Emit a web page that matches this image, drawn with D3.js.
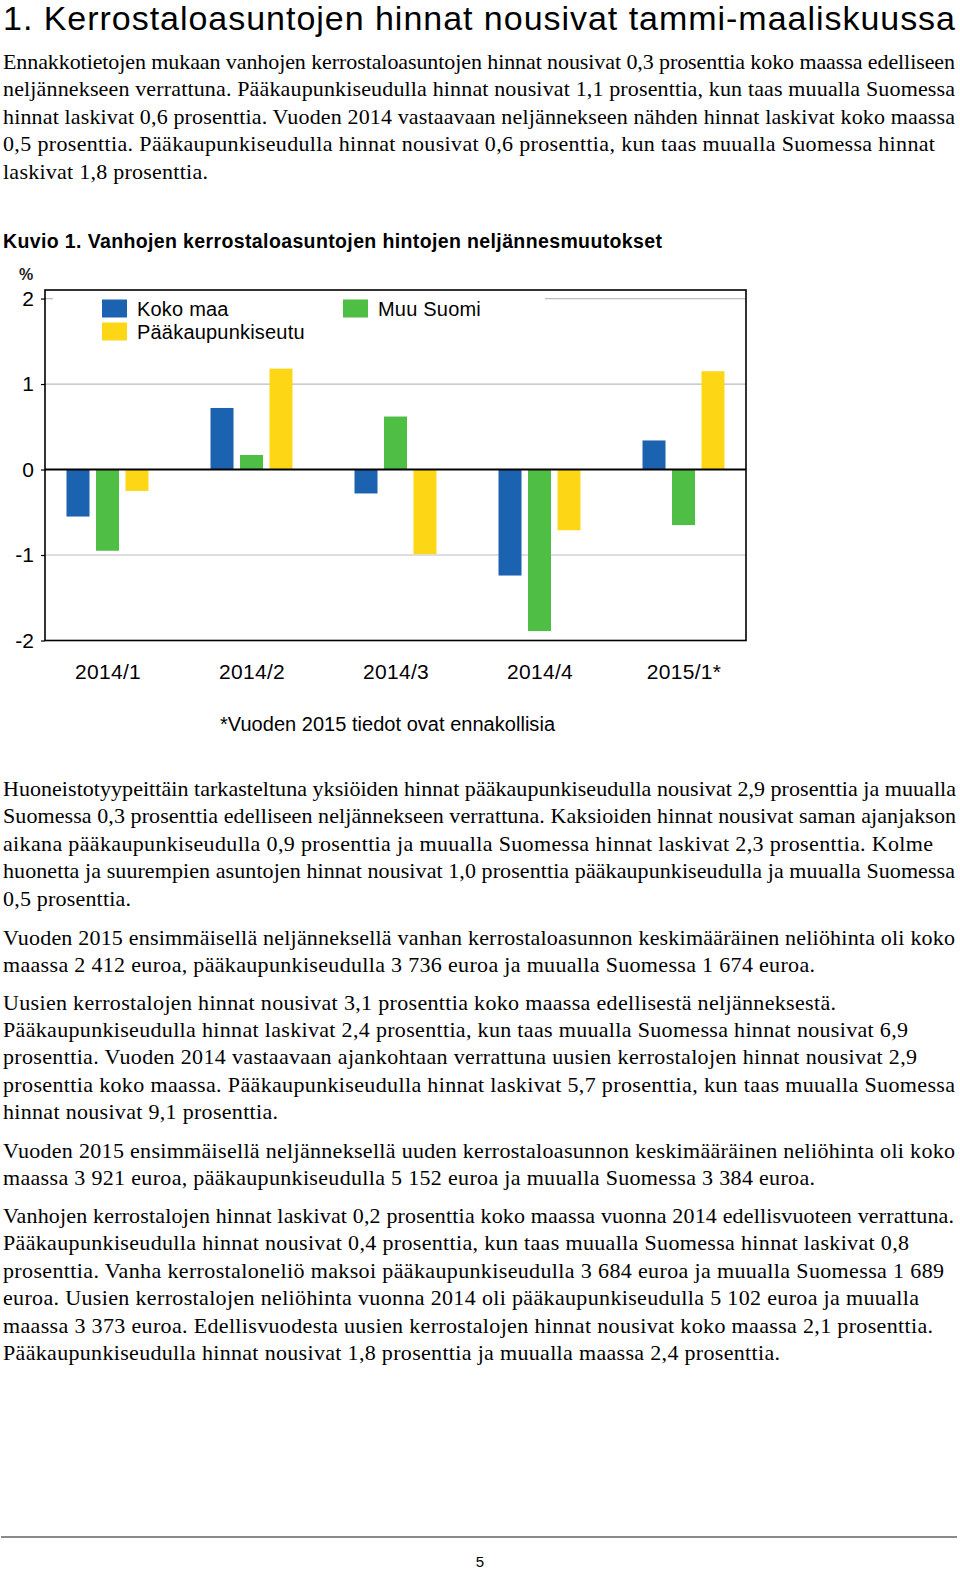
<!DOCTYPE html>
<html>
<head>
<meta charset="utf-8">
<script src="https://cdn.jsdelivr.net/npm/d3@7"></script>
<style>
  html, body { margin: 0; padding: 0; background: #fff; }
  svg { display: block; }
</style>
</head>
<body>
<script>
// ---------- DATA ----------
const categories = ["2014/1", "2014/2", "2014/3", "2014/4", "2015/1*"];
const seriesNames = ["Koko maa", "Muu Suomi", "Pääkaupunkiseutu"];
const kokoMaa = [-0.55, 0.72, -0.28, -1.24, 0.34];
const muuSuomi = [-0.95, 0.17, 0.62, -1.89, -0.65];
const paakaupunkiseutu = [-0.25, 1.18, -0.99, -0.71, 1.15];
const yTicks = [-2, -1, 0, 1, 2];

const pageTitle = "1. Kerrostaloasuntojen hinnat nousivat tammi-maaliskuussa";
const chartTitle = "Kuvio 1. Vanhojen kerrostaloasuntojen hintojen neljännesmuutokset";
const yUnit = "%";
const footnote = "*Vuoden 2015 tiedot ovat ennakollisia";
const pageNumber = "5";

const paragraph1 = [
  "Ennakkotietojen mukaan vanhojen kerrostaloasuntojen hinnat nousivat 0,3 prosenttia koko maassa edelliseen",
  "neljännekseen verrattuna. Pääkaupunkiseudulla hinnat nousivat 1,1 prosenttia, kun taas muualla Suomessa",
  "hinnat laskivat 0,6 prosenttia. Vuoden 2014 vastaavaan neljännekseen nähden hinnat laskivat koko maassa",
  "0,5 prosenttia. Pääkaupunkiseudulla hinnat nousivat 0,6 prosenttia, kun taas muualla Suomessa hinnat",
  "laskivat 1,8 prosenttia."
];
const paragraph2 = [
  "Huoneistotyypeittäin tarkasteltuna yksiöiden hinnat pääkaupunkiseudulla nousivat 2,9 prosenttia ja muualla",
  "Suomessa 0,3 prosenttia edelliseen neljännekseen verrattuna. Kaksioiden hinnat nousivat saman ajanjakson",
  "aikana pääkaupunkiseudulla 0,9 prosenttia ja muualla Suomessa hinnat laskivat 2,3 prosenttia. Kolme",
  "huonetta ja suurempien asuntojen hinnat nousivat 1,0 prosenttia pääkaupunkiseudulla ja muualla Suomessa",
  "0,5 prosenttia."
];
const paragraph3 = [
  "Vuoden 2015 ensimmäisellä neljänneksellä vanhan kerrostaloasunnon keskimääräinen neliöhinta oli koko",
  "maassa 2 412 euroa, pääkaupunkiseudulla 3 736 euroa ja muualla Suomessa 1 674 euroa."
];
const paragraph4 = [
  "Uusien kerrostalojen hinnat nousivat 3,1 prosenttia koko maassa edellisestä neljänneksestä.",
  "Pääkaupunkiseudulla hinnat laskivat 2,4 prosenttia, kun taas muualla Suomessa hinnat nousivat 6,9",
  "prosenttia. Vuoden 2014 vastaavaan ajankohtaan verrattuna uusien kerrostalojen hinnat nousivat 2,9",
  "prosenttia koko maassa. Pääkaupunkiseudulla hinnat laskivat 5,7 prosenttia, kun taas muualla Suomessa",
  "hinnat nousivat 9,1 prosenttia."
];
const paragraph5 = [
  "Vuoden 2015 ensimmäisellä neljänneksellä uuden kerrostaloasunnon keskimääräinen neliöhinta oli koko",
  "maassa 3 921 euroa, pääkaupunkiseudulla 5 152 euroa ja muualla Suomessa 3 384 euroa."
];
const paragraph6 = [
  "Vanhojen kerrostalojen hinnat laskivat 0,2 prosenttia koko maassa vuonna 2014 edellisvuoteen verrattuna.",
  "Pääkaupunkiseudulla hinnat nousivat 0,4 prosenttia, kun taas muualla Suomessa hinnat laskivat 0,8",
  "prosenttia. Vanha kerrostaloneliö maksoi pääkaupunkiseudulla 3 684 euroa ja muualla Suomessa 1 689",
  "euroa. Uusien kerrostalojen neliöhinta vuonna 2014 oli pääkaupunkiseudulla 5 102 euroa ja muualla",
  "maassa 3 373 euroa. Edellisvuodesta uusien kerrostalojen hinnat nousivat koko maassa 2,1 prosenttia.",
  "Pääkaupunkiseudulla hinnat nousivat 1,8 prosenttia ja muualla maassa 2,4 prosenttia."
];

// ---------- LAYOUT ----------
const W = 960, H = 1572;
const colors = { "Koko maa": "#1b63b1", "Muu Suomi": "#4fbe45", "Pääkaupunkiseutu": "#fdd716" };
const sans = "'Liberation Sans', Arial, sans-serif";
const serif = "'Liberation Serif', 'Times New Roman', serif";

const svg = d3.select("body").append("svg").attr("width", W).attr("height", H);
svg.append("rect").attr("width", W).attr("height", H).attr("fill", "#fff");

// fit text to a width
function fitText(sel, width) {
  sel.each(function () {
    const n = this.getComputedTextLength();
    if (Math.abs(n - width) > 1) {
      d3.select(this).attr("textLength", width).attr("lengthAdjust", "spacing");
    }
  });
}

// Page title
svg.append("text").attr("x", 3).attr("y", 30)
  .attr("font-family", sans).attr("font-size", 34).attr("fill", "#000")
  .text(pageTitle).call(fitText, 952);

// Paragraphs
function drawParagraph(lines, y0, ends) {
  lines.forEach((t, i) => {
    svg.append("text").attr("x", 3).attr("y", y0 + i * 27.4)
      .attr("font-family", serif).attr("font-size", 22).attr("fill", "#000")
      .text(t).call(fitText, ends[i] - 3);
  });
}
drawParagraph(paragraph1, 69, [955, 955, 955, 935, 208]);
drawParagraph(paragraph2, 796, [956, 956, 933, 955, 131]);
drawParagraph(paragraph3, 944.5, [955, 815]);
drawParagraph(paragraph4, 1009.5, [836, 908, 917, 955, 278]);
drawParagraph(paragraph5, 1158, [955, 815]);
drawParagraph(paragraph6, 1223, [954, 909, 944, 919, 933, 780]);

// Chart title
svg.append("text").attr("x", 3).attr("y", 248)
  .attr("font-family", sans).attr("font-weight", "bold").attr("font-size", 19.5).attr("fill", "#000")
  .text(chartTitle).call(fitText, 659);

// ---------- CHART ----------
const plot = { left: 45, right: 746, top: 290, bottom: 640.5 };
const y = d3.scaleLinear().domain([-2, 2.1]).range([plot.bottom, plot.top]);
const x0 = d3.scalePoint().domain(categories).range([plot.left, plot.right]).padding(0.434);
const x1 = d3.scaleBand().domain(seriesNames).range([-41, 41]).paddingInner(0.22).paddingOuter(0);

const seriesData = { "Koko maa": kokoMaa, "Muu Suomi": muuSuomi, "Pääkaupunkiseutu": paakaupunkiseutu };

const g = svg.append("g");

// gridlines
g.selectAll("line.grid").data(yTicks.filter(d => d !== 0 && d !== -2)).enter().append("line")
  .attr("x1", plot.left).attr("x2", plot.right)
  .attr("y1", d => y(d)).attr("y2", d => y(d))
  .attr("stroke", "#bdbdbd").attr("stroke-width", 1.2);

// legend background covering part of the top gridline
g.append("rect").attr("x", 53).attr("y", 292).attr("width", 492).attr("height", 56).attr("fill", "#fff");

// bars
seriesNames.forEach(s => {
  g.selectAll(null).data(categories).enter().append("rect")
    .attr("x", c => x0(c) + x1(s))
    .attr("width", x1.bandwidth())
    .attr("y", (c, i) => Math.min(y(seriesData[s][i]), y(0)))
    .attr("height", (c, i) => Math.abs(y(seriesData[s][i]) - y(0)))
    .attr("fill", colors[s]);
});

// zero line
g.append("line").attr("x1", plot.left).attr("x2", plot.right)
  .attr("y1", y(0)).attr("y2", y(0)).attr("stroke", "#000").attr("stroke-width", 2);

// frame
g.append("rect").attr("x", plot.left).attr("y", plot.top)
  .attr("width", plot.right - plot.left).attr("height", plot.bottom - plot.top)
  .attr("fill", "none").attr("stroke", "#000").attr("stroke-width", 1.6);

// y axis
const yAxis = g.append("g").attr("transform", `translate(${plot.left},0)`)
  .call(d3.axisLeft(y).tickValues(yTicks).tickSize(4).tickPadding(7).tickFormat(d3.format("d")));
yAxis.select(".domain").remove();
yAxis.selectAll(".tick line").attr("stroke", "#000").attr("stroke-width", 1.2);
yAxis.selectAll(".tick text").attr("font-family", sans).attr("font-size", 21).attr("fill", "#000")
  .text(d => d < 0 ? "-" + Math.abs(d) : d);

// x axis
const xAxis = g.append("g").attr("transform", `translate(0,${plot.bottom})`)
  .call(d3.axisBottom(x0).tickSize(0).tickPadding(24));
xAxis.select(".domain").remove();
xAxis.selectAll(".tick text").attr("font-family", sans).attr("font-size", 21).attr("fill", "#000")
  .attr("letter-spacing", 0.3);

// unit label
g.append("text").attr("x", 19).attr("y", 280)
  .attr("font-family", sans).attr("font-size", 16).attr("font-weight", "bold").attr("fill", "#222").text(yUnit);

// legend
const legendItems = [
  { name: "Koko maa", x: 102, y: 299.5 },
  { name: "Pääkaupunkiseutu", x: 102, y: 322.5 },
  { name: "Muu Suomi", x: 343, y: 299.5 }
];
const lg = g.selectAll("g.legend").data(legendItems).enter().append("g");
lg.append("rect").attr("x", d => d.x).attr("y", d => d.y).attr("width", 25).attr("height", 18)
  .attr("fill", d => colors[d.name]);
lg.append("text").attr("x", d => d.x + 35).attr("y", d => d.y + 16.5)
  .attr("font-family", sans).attr("font-size", 20).attr("fill", "#000")
  .attr("letter-spacing", 0.2).text(d => d.name);

// footnote
svg.append("text").attr("x", 220).attr("y", 731)
  .attr("font-family", sans).attr("font-size", 20).attr("fill", "#000")
  .text(footnote).call(fitText, 335);

// footer
svg.append("line").attr("x1", 1).attr("x2", 957).attr("y1", 1537).attr("y2", 1537)
  .attr("stroke", "#8a8a8a").attr("stroke-width", 2);
svg.append("text").attr("x", 480).attr("y", 1567).attr("text-anchor", "middle")
  .attr("font-family", sans).attr("font-size", 15).attr("fill", "#000").text(pageNumber);
</script>
</body>
</html>
